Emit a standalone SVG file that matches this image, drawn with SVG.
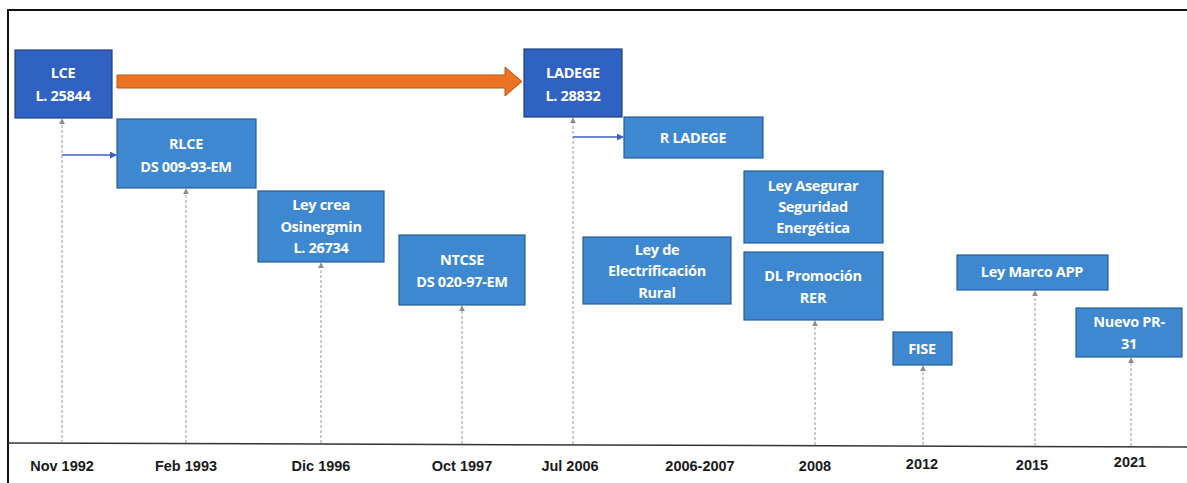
<svg xmlns="http://www.w3.org/2000/svg" width="1187" height="483" viewBox="0 0 1187 483">
  <style>
    .dark { fill: #2F62C3; stroke: #1E3F80; stroke-width: 1.2; }
    .light { fill: #3D88D1; stroke: #2A5E96; stroke-width: 1.2; }
    .nt { font-family: "Open Sans", "Liberation Sans", sans-serif; font-weight: bold; font-size: 14.5px; letter-spacing: -0.3px; fill: #FFFFFF; text-anchor: middle; }
    .date { font-family: "Liberation Sans", Arial, sans-serif; font-weight: bold; font-size: 14.5px; fill: #1A1A1A; text-anchor: middle; }
    .stem { stroke: #9A9A9A; stroke-width: 1; stroke-dasharray: 3 2; fill: none; marker-end: url(#up); }
    .link { stroke: #3A5FC8; stroke-width: 1.3; fill: none; marker-end: url(#blue); }
  </style>
  <defs>
    <marker id="up" viewBox="0 0 8 8" refX="7" refY="4" markerWidth="6" markerHeight="6" orient="auto" markerUnits="userSpaceOnUse">
      <path d="M0,0 L8,4 L0,8 Z" fill="#8C8C8C"/>
    </marker>
    <marker id="blue" viewBox="0 0 8 8" refX="7" refY="4" markerWidth="7" markerHeight="7" orient="auto" markerUnits="userSpaceOnUse">
      <path d="M0,0 L8,4 L0,8 Z" fill="#3A5FC8"/>
    </marker>
  </defs>

  <rect width="1187" height="483" fill="#FFFFFF"/>
  <!-- frame -->
  <path d="M8,483 L8,10 L1187,10" fill="none" stroke="#111111" stroke-width="2"/>
  <!-- time axis -->
  <path d="M8,443 L1187,447" fill="none" stroke="#333333" stroke-width="1.5"/>

  <g id="connectors">
    <line class="stem" x1="62" y1="443" x2="62" y2="119"/>
    <line class="stem" x1="186" y1="443" x2="186" y2="189"/>
    <line class="stem" x1="321" y1="443" x2="321" y2="263"/>
    <line class="stem" x1="462" y1="444" x2="462" y2="306"/>
    <line class="stem" x1="573" y1="444" x2="573" y2="118"/>
    <line class="stem" x1="815" y1="445" x2="815" y2="321"/>
    <line class="stem" x1="923" y1="445" x2="923" y2="366"/>
    <line class="stem" x1="1035" y1="446" x2="1035" y2="291"/>
    <line class="stem" x1="1131" y1="446" x2="1131" y2="358"/>
    <line class="link" x1="62" y1="155" x2="116" y2="155"/>
    <line class="link" x1="573" y1="137" x2="623" y2="137"/>
    <!-- orange span arrow -->
    <path d="M117,75 L505,75 L505,67 L522,81.5 L505,96 L505,88 L117,88 Z" fill="#EC7321" stroke="#B65A16" stroke-width="1"/>
  </g>

  <g id="lce">
    <rect class="dark" x="15" y="50" width="97" height="68"/>
    <text class="nt" x="63" y="78">LCE</text>
    <text class="nt" x="63" y="101">L. 25844</text>
  </g>
  <g id="rlce">
    <rect class="light" x="117" y="119" width="139" height="69"/>
    <text class="nt" x="186" y="149">RLCE</text>
    <text class="nt" x="186" y="172">DS 009-93-EM</text>
  </g>
  <g id="osinergmin">
    <rect class="light" x="258" y="191" width="126" height="71"/>
    <text class="nt" x="321" y="210">Ley crea</text>
    <text class="nt" x="321" y="232">Osinergmin</text>
    <text class="nt" x="321" y="253">L. 26734</text>
  </g>
  <g id="ntcse">
    <rect class="light" x="399" y="235" width="126" height="70"/>
    <text class="nt" x="462" y="265">NTCSE</text>
    <text class="nt" x="462" y="287">DS 020-97-EM</text>
  </g>
  <g id="ladege">
    <rect class="dark" x="524" y="49" width="98" height="68"/>
    <text class="nt" x="573" y="78">LADEGE</text>
    <text class="nt" x="573" y="101">L. 28832</text>
  </g>
  <g id="r-ladege">
    <rect class="light" x="624" y="117" width="139" height="41"/>
    <text class="nt" x="693" y="143">R LADEGE</text>
  </g>
  <g id="electrificacion">
    <rect class="light" x="583" y="237" width="148" height="67"/>
    <text class="nt" x="657" y="255">Ley de</text>
    <text class="nt" x="657" y="276">Electrificación</text>
    <text class="nt" x="657" y="298">Rural</text>
  </g>
  <g id="seguridad">
    <rect class="light" x="744" y="171" width="139" height="72"/>
    <text class="nt" x="813" y="191">Ley Asegurar</text>
    <text class="nt" x="813" y="212">Seguridad</text>
    <text class="nt" x="813" y="233">Energética</text>
  </g>
  <g id="rer">
    <rect class="light" x="744" y="252" width="139" height="68"/>
    <text class="nt" x="813" y="281">DL Promoción</text>
    <text class="nt" x="813" y="303">RER</text>
  </g>
  <g id="fise">
    <rect class="light" x="893" y="332" width="59" height="33"/>
    <text class="nt" x="922" y="354">FISE</text>
  </g>
  <g id="app">
    <rect class="light" x="957" y="255" width="151" height="35"/>
    <text class="nt" x="1032" y="277">Ley Marco APP</text>
  </g>
  <g id="pr31">
    <rect class="light" x="1076" y="308" width="106" height="49"/>
    <text class="nt" x="1129" y="327">Nuevo PR-</text>
    <text class="nt" x="1129" y="349">31</text>
  </g>

  <g id="dates">
    <text class="date" x="62" y="471">Nov 1992</text>
    <text class="date" x="186" y="471">Feb 1993</text>
    <text class="date" x="321" y="471">Dic 1996</text>
    <text class="date" x="462" y="471">Oct 1997</text>
    <text class="date" x="570" y="471">Jul 2006</text>
    <text class="date" x="700" y="471">2006-2007</text>
    <text class="date" x="815" y="471">2008</text>
    <text class="date" x="922" y="469">2012</text>
    <text class="date" x="1032" y="470">2015</text>
    <text class="date" x="1130" y="467">2021</text>
  </g>
</svg>
